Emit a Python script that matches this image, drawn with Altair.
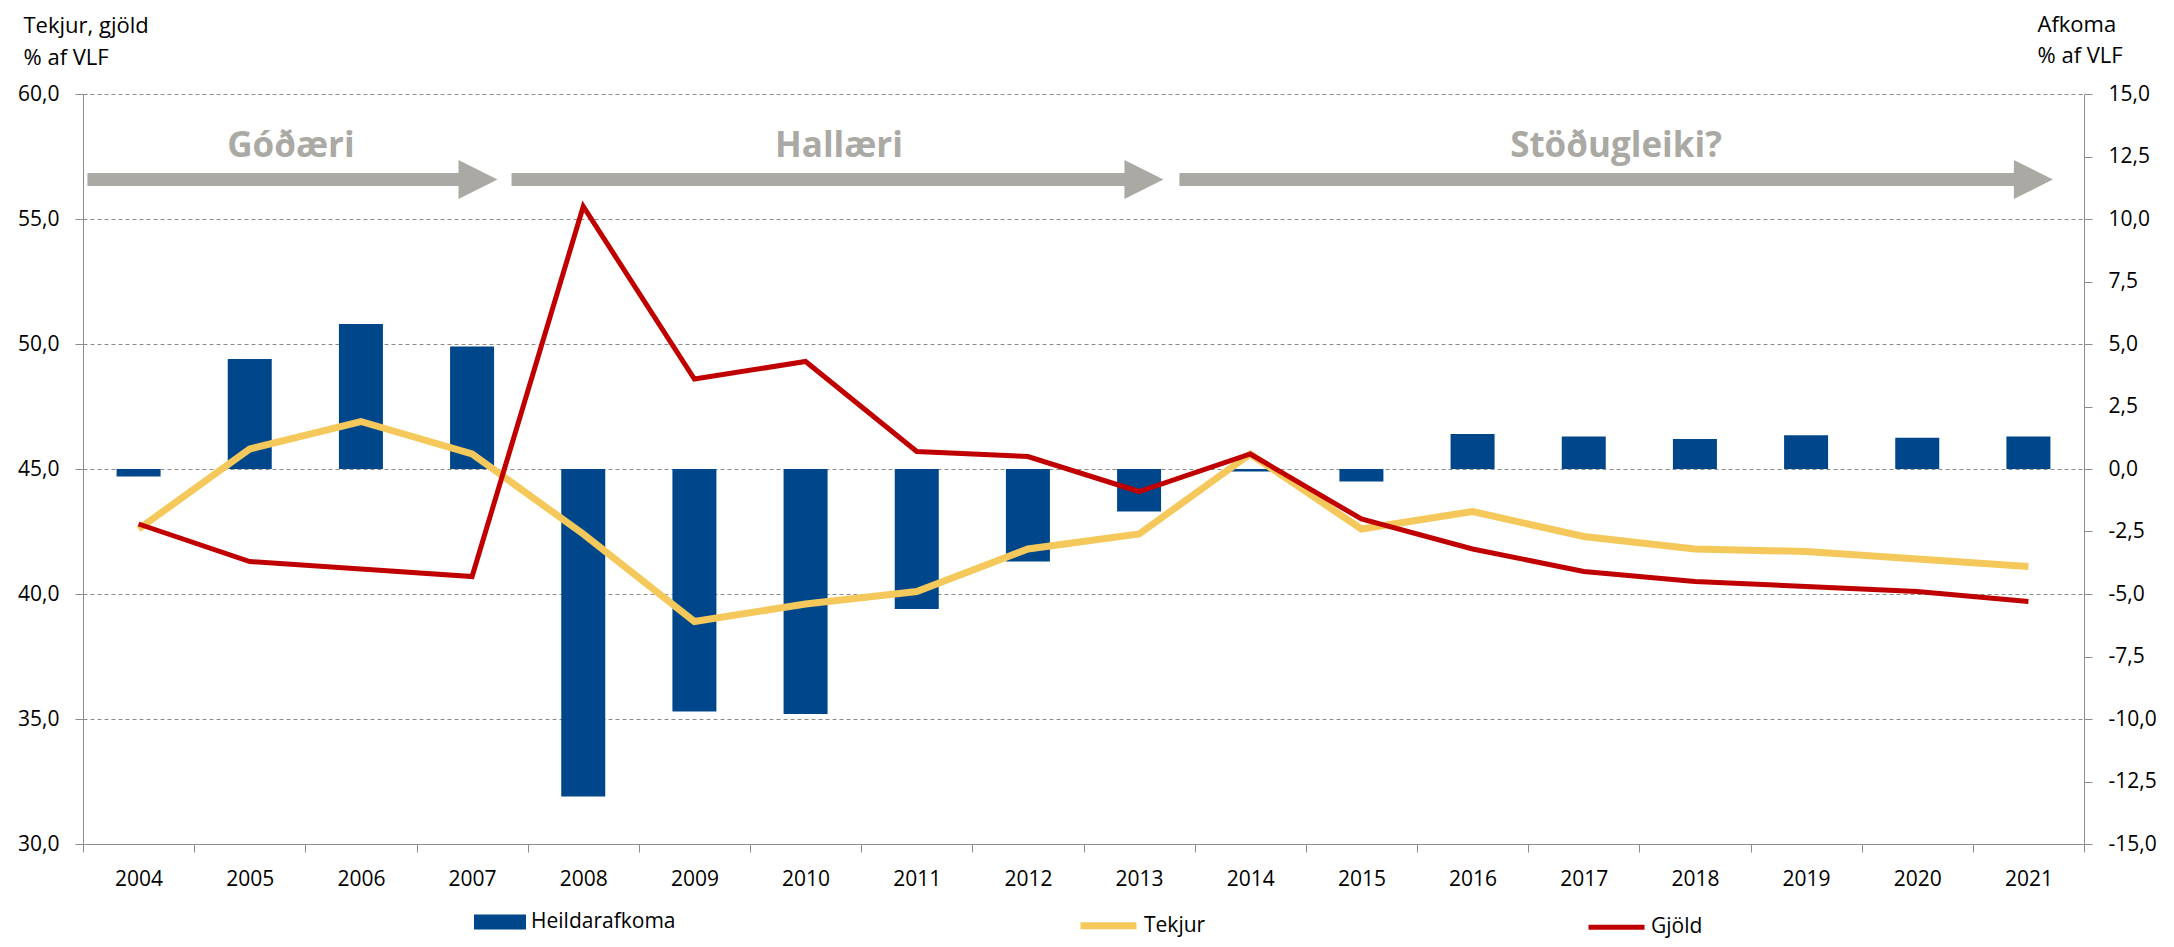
import altair as alt
import pandas as pd

# ---------------- data ----------------
years = [str(y) for y in range(2004, 2022)]
afkoma = [-0.3, 4.4, 5.8, 4.9, -13.1, -9.7, -9.8, -5.6, -3.7, -1.7, -0.1, -0.5,
          1.4, 1.3, 1.2, 1.35, 1.25, 1.3]
tekjur = [42.6, 45.8, 46.9, 45.6, 42.4, 38.9, 39.6, 40.1, 41.8, 42.4, 45.6, 42.6,
          43.3, 42.3, 41.8, 41.7, 41.4, 41.1]
gjold = [42.8, 41.3, 41.0, 40.7, 55.5, 48.6, 49.3, 45.7, 45.5, 44.1, 45.6, 43.0,
         41.8, 40.9, 40.5, 40.3, 40.1, 39.7]

series_bar = ["Heildarafkoma"]
series_lines = ["Tekjur", "Gjöld"]

left_ticks = [30, 35, 40, 45, 50, 55, 60]
right_ticks = [-15, -12.5, -10, -7.5, -5, -2.5, 0, 2.5, 5, 7.5, 10, 12.5, 15]

# phase annotations (x in year-index units, 0..18)
phase_labels = ["Góðæri", "Hallæri", "Stöðugleiki?"]
phase_label_x = [1.87, 6.80, 13.79]
arrow_start = [0.04, 3.855, 9.863]
arrow_base = [3.378, 9.368, 17.367]
arrow_tip = [3.729, 9.719, 17.722]
arrow_y = 56.58
label_y = 57.48

# ---------------- style ----------------
W, H = 2001, 750
FONT = "Open Sans"
BLUE = "#00468B"
YELLOW = "#F5C85C"
RED = "#C00000"
GREY = "#AAA9A3"
AXIS_GREY = "#8C8C8C"

label_expr = "(datum.value < 0 ? '-' : '') + replace(format(abs(datum.value), '.1f'), '.', ',')"

bar_df = pd.DataFrame({"year": years, "value": afkoma, "series": series_bar[0]})
line_df = pd.DataFrame({
    "year": years * 2,
    "value": tekjur + gjold,
    "series": [series_lines[0]] * len(years) + [series_lines[1]] * len(years),
})
arrow_df = pd.DataFrame({
    "start": arrow_start,
    "base": [b + 0.02 for b in arrow_base],
    "head": [(b + t) / 2 for b, t in zip(arrow_base, arrow_tip)],
    "y": [arrow_y] * 3,
})
label_df = pd.DataFrame({"x": phase_label_x, "y": [label_y] * 3, "text": phase_labels})

bars = alt.Chart(bar_df).mark_bar(size=44, color=BLUE).encode(
    x=alt.X("year:O", sort=years,
            scale=alt.Scale(domain=years, paddingInner=0, paddingOuter=0),
            axis=alt.Axis(title=None, labelAngle=0, tickBand="extent", tickSize=8,
                          labelPadding=16, labelFontSize=21, labelFont=FONT,
                          labelColor="#000000", domainColor=AXIS_GREY,
                          tickColor=AXIS_GREY, grid=False)),
    y=alt.Y("value:Q", scale=alt.Scale(domain=[-15, 15], nice=False),
            axis=alt.Axis(orient="right", values=right_ticks, grid=False,
                          labelExpr=label_expr, tickSize=8, labelPadding=16,
                          labelFontSize=21, labelFont=FONT, labelColor="#000000",
                          domainColor=AXIS_GREY, tickColor=AXIS_GREY,
                          title=["Afkoma", "% af VLF"], titleAngle=0,
                          titleAlign="left", titleBaseline="alphabetic",
                          titleX=-47, titleY=-63, titleLineHeight=31,
                          titleFontSize=22, titleFont=FONT,
                          titleFontWeight="normal", titleColor="#000000")),
    fill=alt.Fill("series:N", scale=alt.Scale(domain=series_bar, range=[BLUE]),
                  legend=alt.Legend(title=None, orient="none", legendX=391,
                                    legendY=802, padding=0,
                                    symbolType="M-1,-0.29H1V0.29H-1Z",
                                    symbolSize=2704, symbolStrokeWidth=0,
                                    labelFontSize=21, labelFont=FONT,
                                    labelColor="#000000", labelOffset=5)),
)

lines = alt.Chart(line_df).mark_line(strokeCap="butt", strokeJoin="miter").encode(
    x=alt.X("year:O", sort=years,
            scale=alt.Scale(type="point", domain=years, padding=0.5),
            axis=None),
    y=alt.Y("value:Q", scale=alt.Scale(domain=[30, 60], nice=False, zero=False),
            axis=alt.Axis(orient="left", values=left_ticks, grid=True,
                          gridDash=[4, 3], gridColor=AXIS_GREY, gridWidth=1,
                          labelExpr=label_expr, tickSize=8, labelPadding=16,
                          labelFontSize=21, labelFont=FONT, labelColor="#000000",
                          domainColor=AXIS_GREY, tickColor=AXIS_GREY,
                          title=["Tekjur, gjöld", "% af VLF"], titleAngle=0,
                          titleAlign="left", titleBaseline="alphabetic",
                          titleX=-60, titleY=-62, titleLineHeight=32,
                          titleFontSize=22, titleFont=FONT,
                          titleFontWeight="normal", titleColor="#000000")),
    stroke=alt.Stroke("series:N",
                      scale=alt.Scale(domain=series_lines, range=[YELLOW, RED]),
                      legend=alt.Legend(title=None, orient="none",
                                        direction="horizontal", legendX=994,
                                        legendY=800, padding=0,
                                        symbolType="stroke", symbolSize=3136,
                                        symbolStrokeWidth=6, columnPadding=372,
                                        labelFontSize=21, labelFont=FONT,
                                        labelColor="#000000", labelOffset=4)),
    strokeWidth=alt.StrokeWidth("series:N",
                                scale=alt.Scale(domain=series_lines, range=[7, 5]),
                                legend=None),
    order=alt.Order("series:N", sort="descending"),
)

xq = alt.Scale(domain=[0, 18], nice=False, zero=False)
yq = alt.Scale(domain=[30, 60], nice=False, zero=False)

shafts = alt.Chart(arrow_df).mark_rule(color=GREY, strokeWidth=13, strokeCap="butt").encode(
    x=alt.X("start:Q", scale=xq, axis=None),
    x2="base:Q",
    y=alt.Y("y:Q", scale=yq, axis=None),
)
heads = alt.Chart(arrow_df).mark_point(
    shape="M-1,-1L1,0L-1,1Z", size=1521, filled=True, opacity=1,
    color=GREY, strokeWidth=0,
).encode(
    x=alt.X("head:Q", scale=xq, axis=None),
    y=alt.Y("y:Q", scale=yq, axis=None),
)
texts = alt.Chart(label_df).mark_text(
    font=FONT, fontSize=35, fontWeight="bold", color=GREY,
    align="center", baseline="alphabetic",
).encode(
    x=alt.X("x:Q", scale=xq, axis=None),
    y=alt.Y("y:Q", scale=yq, axis=None),
    text="text:N",
)

chart = alt.layer(bars, lines, shafts, heads, texts).resolve_scale(
    x="independent", y="independent"
).properties(
    width=W, height=H,
    autosize=alt.AutoSizeParams(type="none"),
    padding={"left": 75, "top": 86, "right": 80, "bottom": 95},
    background="white",
).configure_view(stroke=None)

chart.save("out.html", embed_options={"renderer": "svg", "actions": False})
